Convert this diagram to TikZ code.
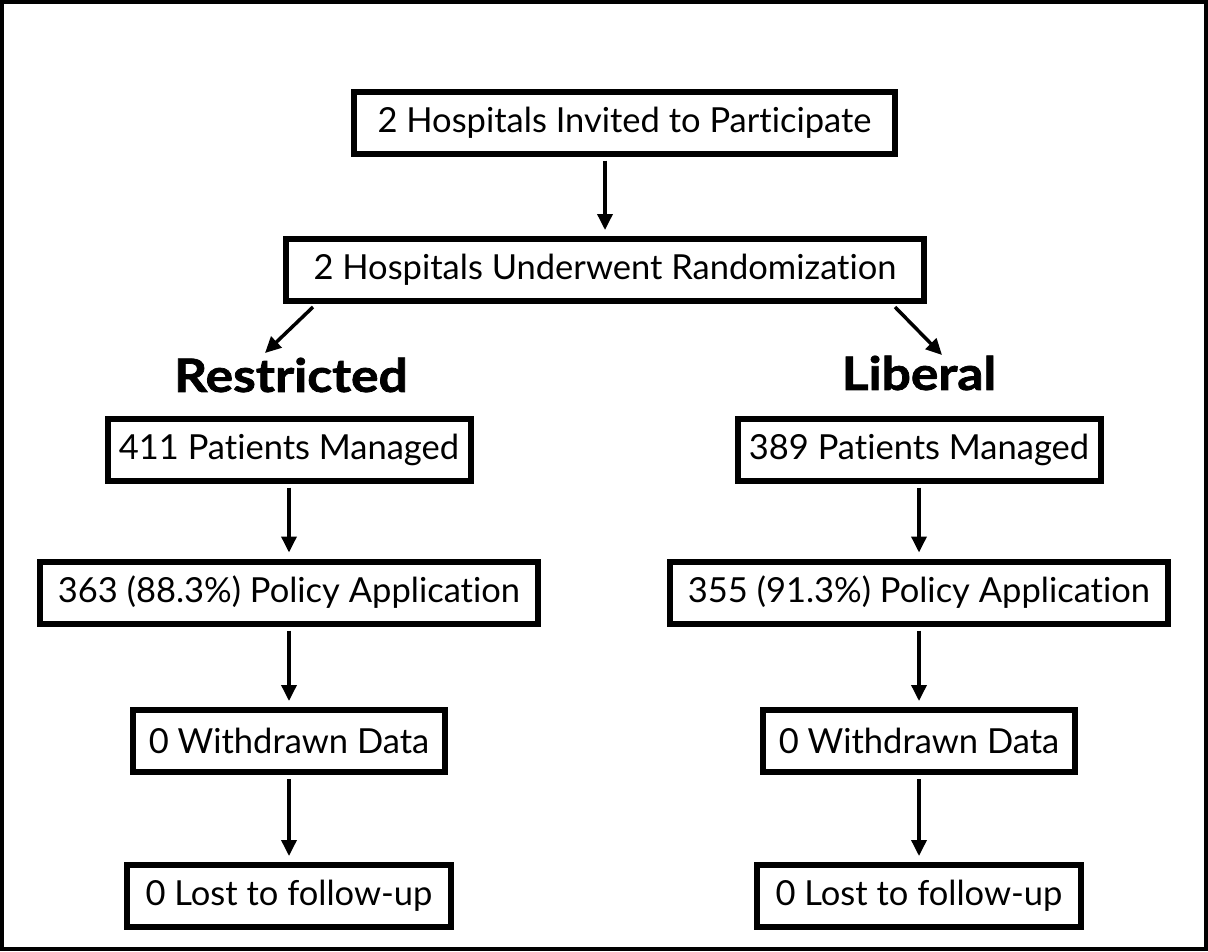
\documentclass[tikz,border=0pt]{standalone}
\usepackage{fontspec}
\setmainfont{Lato}[Ligatures={NoCommon}]
\newfontfamily\armfont{Lato}[FakeStretch=1.12,FakeBold=1.6]
\usetikzlibrary{arrows.meta}

\begin{document}
\begin{tikzpicture}[x=1pt,y=-1pt,>={Triangle[length=16pt,width=15pt]},
	box/.style={draw,line width=6pt,minimum height=62pt,inner sep=0pt,
		font=\fontsize{34.5}{38}\selectfont},
	arm/.style={font=\armfont\bfseries\fontsize{46}{50}\selectfont},
	flow/.style={->,line width=3.5pt,shorten <=4pt,shorten >=6pt}]

\useasboundingbox (0,0) rectangle (1208,951);
\draw[line width=4pt] (2,2) rectangle (1206,949);

\node[box,minimum width=541pt] (invite) at (624.5,122.5) {2 Hospitals Invited to Participate};
\node[box,minimum width=638pt] (rand) at (605,270) {2 Hospitals Underwent Randomization};

\draw[flow] (invite.south -| rand.north) -- (rand.north);

\node[arm] (restr) at (291,375) {Restricted};
\node[arm] (lib) at (919,373) {Liberal};

\draw[flow,shorten <=0pt,shorten >=0pt] ([shift={(30,3)}]rand.south west) -- ([shift={(-26,-22)}]restr.center);
\draw[flow,shorten <=0pt,shorten >=0pt] ([shift={(-32,3)}]rand.south east) -- ([shift={(23,-18)}]lib.center);

\foreach \s/\x/\n/\pc in {L/289/411/{363 (88.3\%)},R/919/389/{355 (91.3\%)}}{
	\node[box,minimum width=363pt] (man\s) at (\x,449.5) {\n{} Patients Managed};
	\node[box,minimum width=498pt] (pol\s) at (\x,592.5) {\pc{} Policy Application};
	\node[box,minimum width=312pt] (wd\s) at (\x,741) {0 Withdrawn Data};
	\node[box,minimum width=324pt] (lost\s) at (\x,896) {0 Lost to follow-up};

	\draw[flow] (man\s) -- (pol\s);
	\draw[flow] (pol\s) -- (wd\s);
	\draw[flow] (wd\s) -- (lost\s);
}

\end{tikzpicture}
\end{document}
